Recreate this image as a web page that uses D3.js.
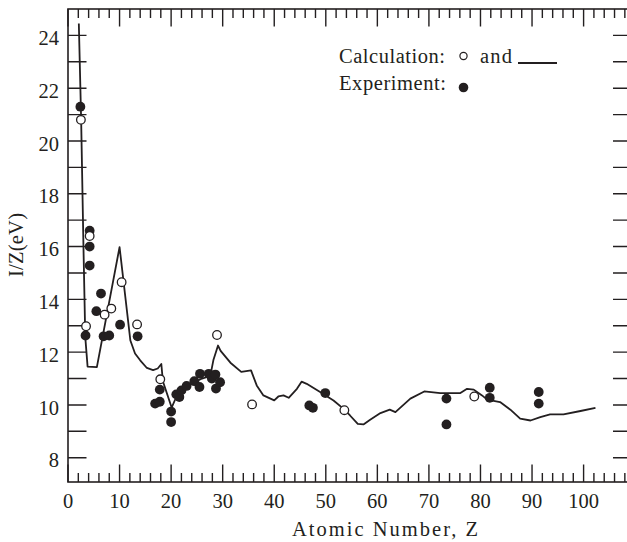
<!DOCTYPE html>
<html>
<head>
<meta charset="utf-8">
<script src="https://cdn.jsdelivr.net/npm/d3@7"></script>
</head>
<body style="margin:0">
<svg width="627" height="542"></svg>
<script>
// calculated curve
const lineZ = [2.1, 2.55, 3.0, 3.35, 3.8, 5.6, 10.0, 12.1, 13.0, 14.0, 15.3, 16.5, 17.4, 18.1, 18.4, 20.1, 21.0, 22.0, 24.0, 26.0, 27.6, 28.2, 29.1, 29.6, 31.5, 33.6, 35.5, 36.6, 37.9, 40.0, 40.8, 41.8, 42.8, 44.4, 45.3, 46.3, 48.9, 51.5, 53.4, 54.7, 56.2, 57.3, 58.6, 60.6, 62.4, 63.5, 66.4, 69.1, 72.2, 76.1, 77.4, 78.7, 80.3, 81.3, 83.8, 85.8, 87.7, 89.7, 91.6, 93.5, 96.1, 99.4, 102.3]
const lineI = [24.45, 20.8, 15.98, 12.57, 11.45, 11.43, 15.98, 12.44, 11.95, 11.69, 11.4, 11.32, 11.38, 11.55, 10.9, 9.9, 10.3, 10.5, 10.8, 11.0, 11.1, 11.7, 12.25, 12.05, 11.6, 11.25, 11.31, 10.74, 10.36, 10.17, 10.32, 10.36, 10.27, 10.61, 10.88, 10.8, 10.49, 10.17, 9.86, 9.6, 9.28, 9.26, 9.44, 9.69, 9.82, 9.73, 10.24, 10.51, 10.45, 10.45, 10.61, 10.58, 10.36, 10.2, 10.11, 9.82, 9.48, 9.41, 9.54, 9.64, 9.64, 9.77, 9.89]

// calculated points (open circles)
const calcZ = [2.5, 3.5, 4.2, 7.1, 8.4, 10.4, 13.4, 17.9, 28.9, 35.7, 53.6, 78.8]
const calcI = [20.8, 12.98, 16.4, 13.42, 13.65, 14.65, 13.05, 10.97, 12.65, 10.02, 9.8, 10.32]

// experimental points (filled)
const expZ = [2.4, 3.4, 4.2, 4.2, 4.2, 5.5, 6.4, 6.9, 8.0, 10.1, 13.5, 16.9, 17.8, 17.8, 20.0, 20.0, 21.0, 21.6, 22.0, 23.0, 24.5, 25.5, 25.6, 27.3, 27.9, 28.6, 28.7, 29.5, 46.8, 47.5, 49.9, 73.4, 73.4, 81.8, 81.8, 91.3, 91.3]
const expI = [21.3, 12.63, 16.6, 16.0, 15.28, 13.55, 14.22, 12.6, 12.63, 13.04, 12.6, 10.05, 10.12, 10.58, 9.75, 9.35, 10.4, 10.3, 10.55, 10.72, 10.9, 10.68, 11.18, 11.18, 11.0, 11.15, 10.62, 10.86, 9.98, 9.89, 10.45, 10.24, 9.26, 10.65, 10.27, 10.49, 10.05]

const xMajor = [0, 10, 20, 30, 40, 50, 60, 70, 80, 90, 100]
const xMinor = d3.range(0, 109, 2)
const yMajor = [8, 10, 12, 14, 16, 18, 20, 22, 24]
const yMinor = d3.range(8, 25, 1)

const ink = '#231f20'
const font = 'Liberation Serif'
const fontSize = 20.5

let svg = d3.select('svg')
let margin = { top: 9, right: -3, bottom: 60, left: 68 }
let width = +svg.attr('width') - margin.left - margin.right
let height = +svg.attr('height') - margin.top - margin.bottom

let g = svg.append('g')
  .attr('transform', 'translate(' + margin.left + ',' + margin.top + ')')

let x = d3.scaleLinear().domain([0, 109]).range([0, width])
let y = d3.scaleLinear().domain([7.08, 25.0]).range([height, 0])

function xLen (d) { return d % 10 === 0 ? 17.5 : 9 }

// frame
g.append('rect')
  .attr('x', 0).attr('y', 0)
  .attr('width', width).attr('height', height)
  .attr('fill', 'none').attr('stroke', ink).attr('stroke-width', 1.6)

// tick marks, all pointing inwards
let tickPath = ''
xMinor.forEach(function (d) {
  tickPath += 'M' + x(d) + ',' + height + 'v' + (-xLen(d))
  tickPath += 'M' + x(d) + ',0v' + xLen(d)
})
yMinor.forEach(function (d) {
  tickPath += 'M0,' + y(d) + 'h18.5'
  tickPath += 'M' + width + ',' + y(d) + 'h-17'
})
g.append('path')
  .attr('d', tickPath)
  .attr('fill', 'none')
  .attr('stroke', ink)
  .attr('stroke-width', 1.4)

// tick labels
g.selectAll('.xl')
  .data(xMajor)
  .enter()
  .append('text')
  .attr('class', 'xl')
  .attr('x', function (d) { return x(d) })
  .attr('y', height + 25.5)
  .attr('text-anchor', 'middle')
  .attr('font-family', font)
  .attr('font-size', fontSize)
  .attr('fill', ink)
  .text(function (d) { return d })

g.selectAll('.ylab')
  .data(yMajor)
  .enter()
  .append('text')
  .attr('class', 'ylab')
  .attr('x', -9)
  .attr('y', function (d) { return y(d) })
  .attr('dy', '0.47em')
  .attr('text-anchor', 'end')
  .attr('font-family', font)
  .attr('font-size', fontSize)
  .attr('fill', ink)
  .text(function (d) { return d })

// calculated curve
let line = d3.line()
  .x(function (d, i) { return x(lineZ[i]) })
  .y(function (d, i) { return y(lineI[i]) })

g.append('path')
  .datum(lineZ)
  .attr('d', line)
  .attr('fill', 'none')
  .attr('stroke', ink)
  .attr('stroke-width', 1.8)
  .attr('stroke-linejoin', 'round')

// experiment
g.selectAll('.exp')
  .data(expZ)
  .enter()
  .append('circle')
  .attr('class', 'exp')
  .attr('cx', function (d) { return x(d) })
  .attr('cy', function (d, i) { return y(expI[i]) })
  .attr('r', 4.9)
  .attr('fill', ink)

// calculation points
g.selectAll('.calc')
  .data(calcZ)
  .enter()
  .append('circle')
  .attr('class', 'calc')
  .attr('cx', function (d) { return x(d) })
  .attr('cy', function (d, i) { return y(calcI[i]) })
  .attr('r', 4.3)
  .attr('fill', '#fff')
  .attr('stroke', ink)
  .attr('stroke-width', 1.3)

// legend
let leg = svg.append('g')
  .attr('font-family', font)
  .attr('font-size', fontSize)
  .attr('fill', ink)
leg.append('text').attr('x', 339).attr('y', 62.5)
  .attr('textLength', 106).attr('lengthAdjust', 'spacing').text('Calculation:')
leg.append('circle').attr('cx', 463.5).attr('cy', 56).attr('r', 3.6)
  .attr('fill', '#fff').attr('stroke', ink).attr('stroke-width', 1.2)
leg.append('text').attr('x', 480).attr('y', 62.5)
  .attr('textLength', 32).attr('lengthAdjust', 'spacing').text('and')
leg.append('line').attr('x1', 518).attr('x2', 557).attr('y1', 63).attr('y2', 63)
  .attr('stroke', ink).attr('stroke-width', 1.8)
leg.append('text').attr('x', 339).attr('y', 90)
  .attr('textLength', 107).attr('lengthAdjust', 'spacing').text('Experiment:')
leg.append('circle').attr('cx', 463.5).attr('cy', 87.5).attr('r', 4.8).attr('fill', ink)

// axis titles
svg.append('text')
  .attr('x', 385).attr('y', 536)
  .attr('text-anchor', 'middle')
  .attr('font-family', font)
  .attr('font-size', fontSize)
  .attr('fill', ink)
  .attr('textLength', 186).attr('lengthAdjust', 'spacing')
  .text('Atomic Number, Z')

svg.append('text')
  .attr('transform', 'translate(23,245) rotate(-90)')
  .attr('text-anchor', 'middle')
  .attr('font-family', font)
  .attr('font-size', fontSize)
  .attr('fill', ink)
  .attr('textLength', 64).attr('lengthAdjust', 'spacing')
  .text('I/Z(eV)')
</script>
</body>
</html>
